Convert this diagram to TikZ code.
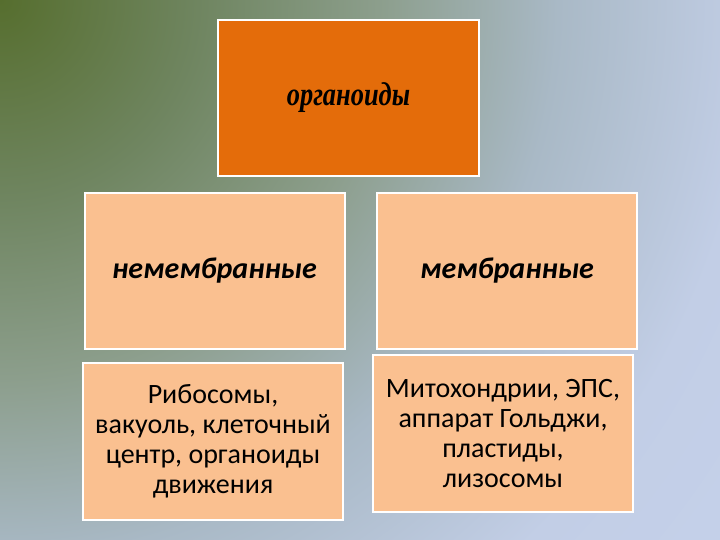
\documentclass[tikz,border=0pt]{standalone}
\usepackage{fontspec}
\setmainfont{Carlito}
\newfontfamily\titlefont{Liberation Serif}
\usepackage{graphicx}
\usepackage{tikz}
\usetikzlibrary{shapes.geometric}

\definecolor{bgA}{HTML}{566E2E}
\definecolor{bgB}{HTML}{6F8560}
\definecolor{bgC}{HTML}{8C9E8C}
\definecolor{bgD}{HTML}{A9B9C6}
\definecolor{bgE}{HTML}{C2CEE6}
\definecolor{bgF}{HTML}{C6D2EC}
\definecolor{bgG}{HTML}{DDE5F3}
\definecolor{orgfill}{HTML}{E46C0A}
\definecolor{peach}{HTML}{FAC090}

\pgfdeclareradialshading{bgfade}{\pgfpoint{0bp}{0bp}}{color(0bp)=(bgA); color(5.5bp)=(bgB); color(10.5bp)=(bgC); color(15.5bp)=(bgD); color(21bp)=(bgE); color(28bp)=(bgF); color(35bp)=(bgG); color(50bp)=(bgG)}

\tikzstyle{topbox} = [rectangle, minimum width=261pt, minimum height=156pt, inner sep=0pt, text centered, draw=white, line width=2pt, fill=orgfill]
\tikzstyle{kindbox} = [rectangle, minimum width=260pt, minimum height=156pt, inner sep=0pt, text centered, draw=white, line width=2pt, fill=peach, font=\fontsize{30}{34}\selectfont\bfseries\itshape]
\tikzstyle{listbox} = [rectangle, minimum width=260pt, minimum height=157pt, inner sep=0pt, align=center, draw=white, line width=2pt, fill=peach, font=\fontsize{28}{30}\selectfont]

\begin{document}
\begin{tikzpicture}[x=1pt, y=-1pt]

        \useasboundingbox (0,0) rectangle (720,540);
        \clip (0,0) rectangle (720,540);
        \shade[shading=bgfade] (-900,-900) rectangle (900,900);

        \node (organ) [topbox] at (348.5,98) {\scalebox{0.8}[1]{\titlefont\fontsize{33}{36}\selectfont\bfseries\itshape органоиды}};

        \node (nonmem) [kindbox] at (214.5,271) {немембранные};
        \node (mem) [kindbox] at (507,271) {мембранные};

        \node (nonlist) [listbox] at (213,441) {Рибосомы,\\вакуоль, клеточный\\центр, органоиды\\движения};
        \node (memlist) [listbox] at (503,433.5) {Митохондрии, ЭПС,\\аппарат Гольджи,\\пластиды,\\лизосомы};

    \end{tikzpicture}
\end{document}
